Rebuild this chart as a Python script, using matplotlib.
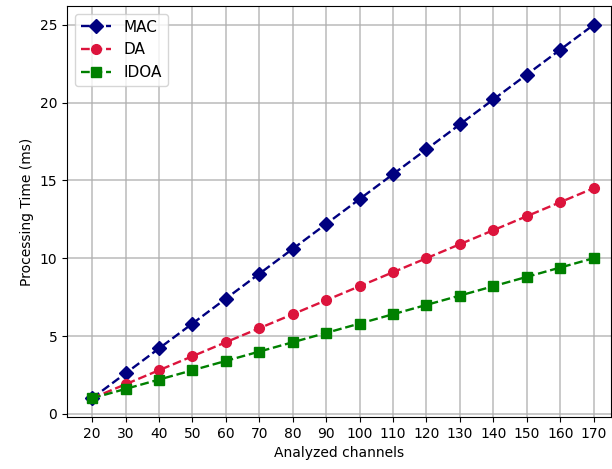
import matplotlib
matplotlib.use("Agg")
import matplotlib.pyplot as plt

channels = [20, 30, 40, 50, 60, 70, 80, 90, 100, 110, 120, 130, 140, 150, 160, 170]
mac = [1.0, 2.6, 4.2, 5.8, 7.4, 9.0, 10.6, 12.2, 13.8, 15.4, 17.0, 18.6, 20.2, 21.8, 23.4, 25.0]
da = [1.0, 1.9, 2.8, 3.7, 4.6, 5.5, 6.4, 7.3, 8.2, 9.1, 10.0, 10.9, 11.8, 12.7, 13.6, 14.5]
idoa = [1.0, 1.6, 2.2, 2.8, 3.4, 4.0, 4.6, 5.2, 5.8, 6.4, 7.0, 7.6, 8.2, 8.8, 9.4, 10.0]

fig = plt.figure(figsize=(6.12, 4.69), dpi=100)
ax = fig.add_axes([0.1095, 0.111, 0.889, 0.876])
ax.plot(channels, mac, linestyle='--', marker='D', color='navy', markersize=7, linewidth=1.7, label='MAC')
ax.plot(channels, da, linestyle='--', marker='o', color='crimson', markersize=7, linewidth=1.7, label='DA')
ax.plot(channels, idoa, linestyle='--', marker='s', color='green', markersize=6.5, linewidth=1.7, label='IDOA')
ax.set_xticks(channels)
ax.set_xlim(12.5, 175.2)
ax.grid(True, color='#b0b0b0', linewidth=1.2, alpha=0.8)
ax.set_xlabel('Analyzed channels')
ax.set_ylabel('Processing Time (ms)')
ax.legend(loc='upper left', fontsize=11)
fig.savefig('out.png', dpi=100)
